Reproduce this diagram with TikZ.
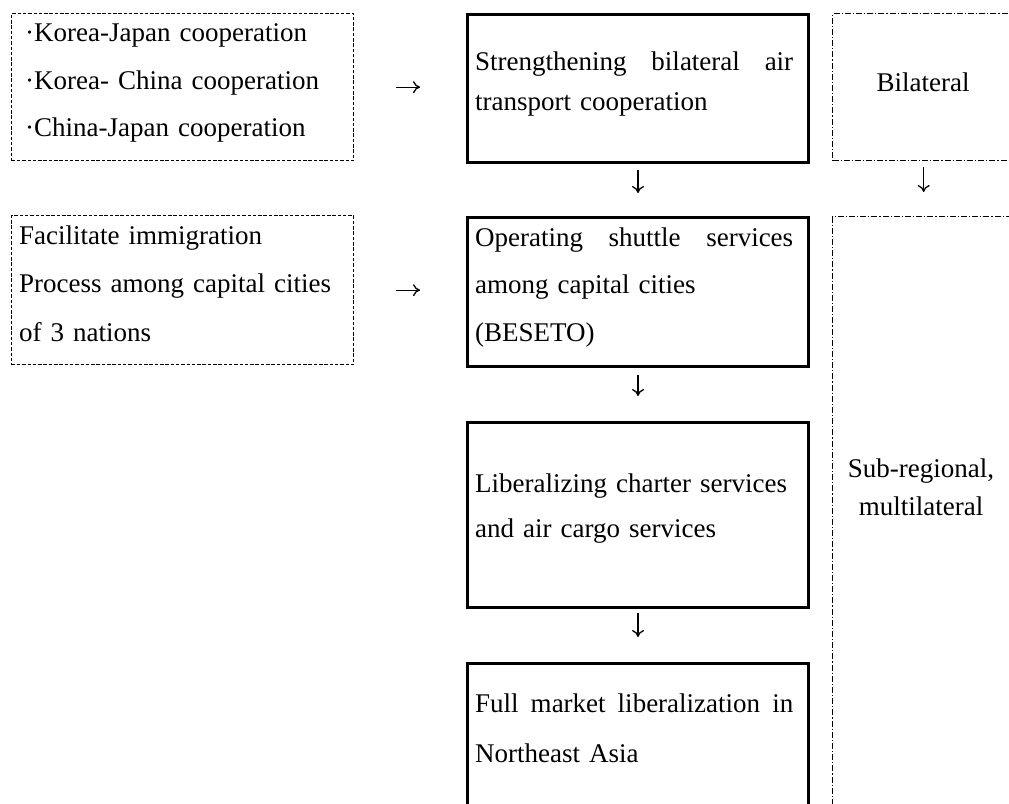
\documentclass[tikz,border=0pt]{standalone}
\usepackage{fontspec}
\setmainfont{Liberation Serif}
\usetikzlibrary{arrows.meta}

\newcommand{\boxfont}[1]{\fontsize{27}{#1}\selectfont}

\tikzset{
  solidbox/.style={draw, line width=3pt, inner sep=0pt, anchor=north west},
  dashbox/.style={draw, line width=1.3pt, dash pattern=on 3.5pt off 1.8pt, inner sep=0pt, anchor=north west},
  dotdashbox/.style={draw, line width=1.3pt, dash pattern=on 6pt off 2pt on 1.2pt off 2pt, inner sep=0pt, anchor=north west},
  boxtext/.style={anchor=north west, inner sep=0pt, align=left, text width=#1},
  flow/.style={line width=1.3pt, -{To[length=7pt,width=12pt]}},
}

\begin{document}
\begin{tikzpicture}[x=1pt,y=-1pt]
  \useasboundingbox (0,0) rectangle (1009,803);
  \clip (0,0) rectangle (1009,803);

  % left column: what each step rests on
  \node[dashbox, minimum width=342, minimum height=147] (coop) at (11,13) {};
  \node[dashbox, minimum width=342, minimum height=149] (immig) at (11,215) {};
  \node[boxtext=330, font=\boxfont{47.5}] (cooptext) at (25,23.5)
    {·Korea-Japan cooperation\\·Korea- China cooperation\\·China-Japan cooperation};
  \node[boxtext=330, font=\boxfont{48.5}] (immigtext) at (19,225.5)
    {Facilitate immigration\\Process among capital cities\\of 3 nations};

  % middle column: the steps
  \node[solidbox, minimum width=341, minimum height=148] (bilat) at (466,13) {};
  \node[solidbox, minimum width=341, minimum height=149] (shuttle) at (466,216) {};
  \node[solidbox, minimum width=341, minimum height=185] (charter) at (466,421) {};
  \node[solidbox, minimum width=341, minimum height=250] (fullmkt) at (466,662) {};
  \node[boxtext=318, font=\boxfont{40}] (bilattext) at (475,51.5)
    {Strengthening\hfill bilateral\hfill air\\transport cooperation};
  \node[boxtext=318, font=\boxfont{47.5}] (shuttletext) at (475,227.5)
    {Operating\hfill shuttle\hfill services\\among capital cities\\(BESETO)};
  \node[boxtext=318, font=\boxfont{45}] (chartertext) at (475,473.5)
    {Liberalizing charter services\\and air cargo services};
  \node[boxtext=318, font=\boxfont{50}] (fulltext) at (475,693.5)
    {Full\hfill market\hfill liberalization\hfill in\\Northeast Asia};

  % right column: level of cooperation
  \node[dotdashbox, minimum width=182, minimum height=147] (bilevel) at (832,13) {};
  \node[dotdashbox, minimum width=182, minimum height=700] (multilevel) at (832,216) {};
  \node[font=\boxfont{30}] (bilevtext) at (923,82) {Bilateral};
  \node[anchor=north, align=center, font=\boxfont{38}] (multilevtext) at (921,455.5)
    {Sub-regional,\\multilateral};

  % arrows
  \draw[flow, shorten <=42pt, shorten >=46pt] (coop.east) -- (coop.east -| bilat.west);
  \draw[flow, shorten <=42pt, shorten >=46pt] (immig.east) -- (immig.east -| shuttle.west);
  \draw[flow, shorten <=6pt, shorten >=23pt] (bilat.south) -- (shuttle.north);
  \draw[flow, shorten <=7pt, shorten >=25pt] (shuttle.south) -- (charter.north);
  \draw[flow, shorten <=4pt, shorten >=25pt] (charter.south) -- (fullmkt.north);
  \draw[flow, shorten <=6pt, shorten >=24pt] (bilevel.south) -- (multilevel.north);
\end{tikzpicture}
\end{document}
